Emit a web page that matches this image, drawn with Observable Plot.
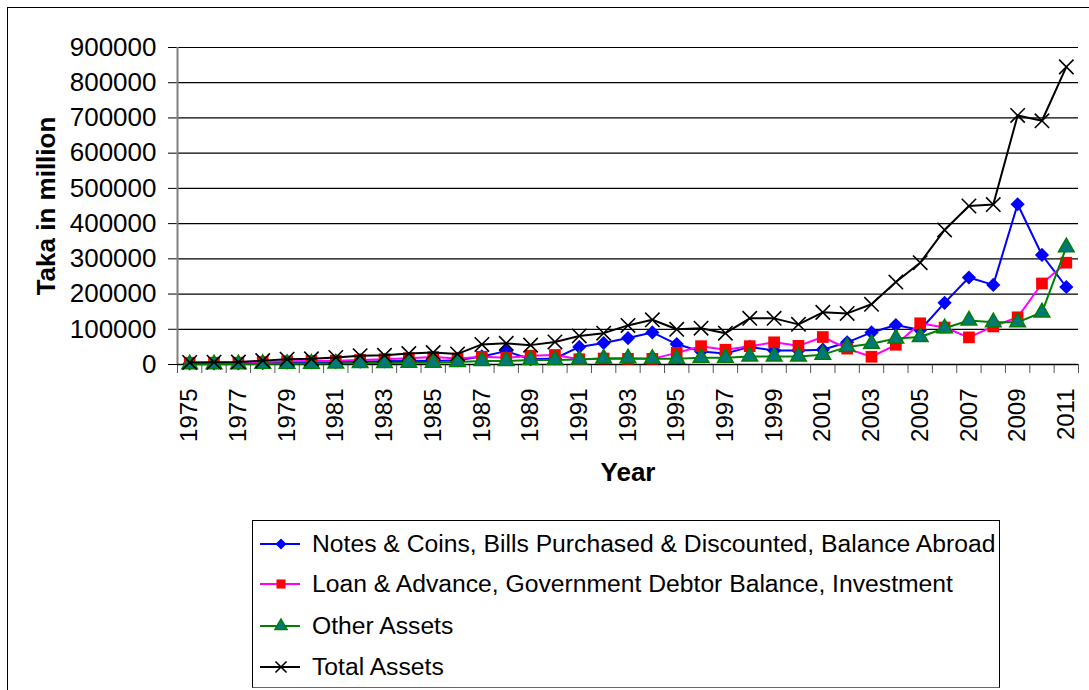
<!DOCTYPE html>
<html><head><meta charset="utf-8">
<script src="https://cdn.jsdelivr.net/npm/d3@7"></script>
<script src="https://cdn.jsdelivr.net/npm/@observablehq/plot@0.6"></script>
<style>
html,body{margin:0;padding:0;background:#fff;overflow:hidden;width:1089px;height:690px;}
#wrap{position:relative;width:1089px;height:690px;font-family:"Liberation Sans",Arial,sans-serif;overflow:hidden;}
#frame{position:absolute;left:7px;top:7px;width:1200px;height:800px;border-left:1.5px solid #000;border-top:1.5px solid #000;}
#chart{position:absolute;left:0;top:0;}
#legend{position:absolute;left:252px;top:520px;width:748px;height:168px;border:1.5px solid #000;border-bottom-color:#666;box-sizing:border-box;background:#fff;}
.row{position:absolute;left:6px;height:30px;display:flex;align-items:center;font-size:24.7px;white-space:nowrap;color:#000;}
.row svg{margin-right:11px;}
</style>
</head><body>
<div id="wrap"><div id="frame"></div><div id="chart"></div><div id="legend"></div></div>
<script>
const years = [1975,1976,1977,1978,1979,1980,1981,1982,1983,1984,1985,1986,1987,1988,1989,1990,1991,1992,1993,1994,1995,1996,1997,1998,1999,2000,2001,2002,2003,2004,2005,2006,2007,2008,2009,2010,2011];
const notesCoins = [3000,3000,3000,4000,5000,6000,7000,8000,9000,11000,10000,12000,23000,38000,15000,17000,50000,61000,75000,91000,58000,37000,31000,50000,40000,40000,42000,63000,91000,112000,98000,175000,247000,226000,455000,311000,220000];
const loanAdvance = [5000,5000,5000,7000,9000,10000,11000,13000,15000,18000,21000,17000,22000,19000,25000,27000,15000,17000,16000,16000,33000,52000,42000,52000,63000,53000,78000,45000,22000,56000,117000,105000,77000,108000,134000,230000,289000];
const otherAssets = [1000,1000,1000,2000,2000,2500,3000,4000,4000,5000,5000,7000,10000,10000,13000,13000,14000,17000,18000,16000,16000,19000,19000,23000,23000,23000,28000,50000,59000,74000,78000,103000,125000,120000,120000,148000,333000];
const totalAssets = [6000,6500,7000,11000,15000,16000,20000,25000,26000,31000,34000,30000,57000,60000,55000,64000,81000,89000,111000,127000,100000,103000,89000,131000,131000,114000,148000,145000,171000,234000,289000,382000,450000,454000,707000,692000,845000];
const seriesNames = ["Notes & Coins, Bills Purchased & Discounted, Balance Abroad","Loan & Advance, Government Debtor Balance, Investment","Other Assets","Total Assets"];
const yTicks = [0,100000,200000,300000,400000,500000,600000,700000,800000,900000];
const xLabelYears = [1975,1977,1979,1981,1983,1985,1987,1989,1991,1993,1995,1997,1999,2001,2003,2005,2007,2009,2011];
const xTickBounds = [1974.5,1975.5,1976.5,1977.5,1978.5,1979.5,1980.5,1981.5,1982.5,1983.5,1984.5,1985.5,1986.5,1987.5,1988.5,1989.5,1990.5,1991.5,1992.5,1993.5,1994.5,1995.5,1996.5,1997.5,1998.5,1999.5,2000.5,2001.5,2002.5,2003.5,2004.5,2005.5,2006.5,2007.5,2008.5,2009.5,2010.5,2011.5];

const styles = [
  {values: notesCoins, line: "#0000FF", symbol: "diamond2", r: 6.4, fill: "#0000FF", stroke: "none", sw: 0},
  {values: loanAdvance, line: "#FF00FF", symbol: "square", r: 6.6, fill: "#FF0000", stroke: "none", sw: 0},
  {values: otherAssets, line: "#008000", symbol: "triangle", r: 5.8, fill: "#007878", stroke: "#008000", sw: 1.5},
  {values: totalAssets, line: "#000000", symbol: "times", r: 6.6, fill: "none", stroke: "#000000", sw: 1.6}
];

const seriesMarks = styles.flatMap((s, k) => {
  const rows = years.map((yr, i) => ({year: yr, value: s.values[i], name: seriesNames[k]}));
  return [
    Plot.line(rows, {x: "year", y: "value", stroke: s.line, strokeWidth: 2}),
    Plot.dot(rows, {x: "year", y: "value", symbol: s.symbol, r: s.r, fill: s.fill, stroke: s.stroke, strokeWidth: s.sw})
  ];
});

const chart = Plot.plot({
  width: 1089,
  height: 500,
  marginLeft: 177,
  marginRight: 11,
  marginTop: 47,
  marginBottom: 136,
  style: {fontFamily: "'Liberation Sans', Arial, sans-serif", background: "transparent", color: "#000", overflow: "visible"},
  x: {domain: [xTickBounds[0], xTickBounds[xTickBounds.length - 1]], axis: null},
  y: {domain: [0, 900000], axis: null},
  marks: [
    Plot.gridY(yTicks.slice(1), {stroke: "#000", strokeOpacity: 1, strokeWidth: 1.2}),
    Plot.axisY(yTicks, {tickSize: 9, tickPadding: 12, tickFormat: "d", fontSize: 26, label: null, stroke: "#000"}),
    Plot.axisY({ticks: [], label: "Taka in million", labelAnchor: "center", labelArrow: "none", labelOffset: 141, fontSize: 26, fontWeight: "bold"}),
    Plot.axisX(xTickBounds, {tickSize: 9, tickFormat: () => "", label: null, stroke: "#555"}),
    Plot.axisX(xLabelYears, {tickSize: 0, tickRotate: -90, tickPadding: 24, tickFormat: "d", fontSize: 24, label: null}),
    Plot.axisX({ticks: [], label: "Year", labelAnchor: "center", labelArrow: "none", labelOffset: 116, fontSize: 26, fontWeight: "bold"}),
    Plot.ruleY([0], {stroke: "#000", strokeWidth: 1.5}),
    Plot.ruleX([xTickBounds[0]], {stroke: "#808080", strokeWidth: 2}),
    ...seriesMarks
  ]
});
document.getElementById("chart").appendChild(chart);

// legend
const legend = document.getElementById("legend");
const rowTops = [8, 48, 90, 131];
styles.forEach((s, k) => {
  const row = document.createElement("div");
  row.className = "row";
  row.style.top = rowTops[k] + "px";
  const sw = d3.create("svg").attr("width", 42).attr("height", 20);
  sw.append("line").attr("x1", 1).attr("x2", 41).attr("y1", 10).attr("y2", 10).attr("stroke", s.line).attr("stroke-width", 2);
  const sym = {diamond2: d3.symbolDiamond2, square: d3.symbolSquare, triangle: d3.symbolTriangle, times: d3.symbolTimes}[s.symbol];
  const size = Math.PI * s.r * s.r * 0.6;
  sw.append("path").attr("d", d3.symbol(sym, size)()).attr("transform", "translate(22,10)")
    .attr("fill", s.fill).attr("stroke", s.stroke).attr("stroke-width", s.sw);
  row.appendChild(sw.node());
  const t = document.createElement("span");
  t.textContent = seriesNames[k];
  row.appendChild(t);
  legend.appendChild(row);
});
</script>
</body></html>
